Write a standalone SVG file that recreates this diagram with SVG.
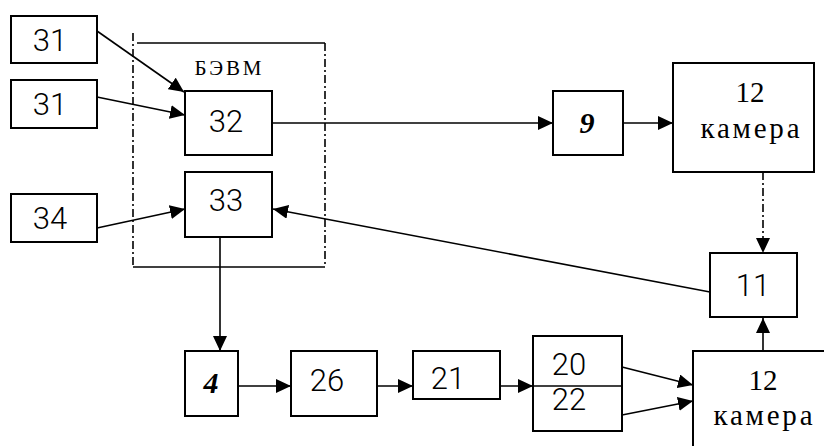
<svg xmlns="http://www.w3.org/2000/svg" width="824" height="446" viewBox="0 0 824 446">
<style>
.b{fill:#fff;stroke:#000;stroke-width:2}
.c{fill:none;stroke:#000;stroke-width:1.6}
.dd{fill:none;stroke:#000;stroke-width:1.6;stroke-dasharray:8 3 2 3}
.s{font-family:Roboto,"Liberation Sans",sans-serif;font-weight:300;font-size:31px;text-anchor:middle;fill:#000}
.t{font-family:"Liberation Serif","Times New Roman",serif;font-size:29px;text-anchor:middle;fill:#000}
.k{font-size:29px}
.e{font-size:21px}
.bi{font-family:"Liberation Serif","Times New Roman",serif;font-size:30px;font-weight:bold;font-style:italic;text-anchor:middle;fill:#000}
</style>
<defs>
<marker id="a" markerUnits="userSpaceOnUse" markerWidth="16" markerHeight="14" refX="15" refY="7" orient="auto">
<path d="M0,0 L15,7 L0,14 Z" fill="#000"/>
</marker>
</defs>
<g id="frame">
<line class="dd" x1="133" y1="33" x2="133" y2="267"/>
<line class="c" x1="137" y1="43" x2="325" y2="43"/>
<line class="dd" x1="325" y1="43" x2="325" y2="267"/>
<line class="c" x1="133" y1="267" x2="325" y2="267"/>
<text x="228" y="75" class="t e" textLength="67" lengthAdjust="spacing">БЭВМ</text>
</g>
<g id="connectors">
<line class="c" x1="97" y1="31" x2="184" y2="92" marker-end="url(#a)"/>
<line class="c" x1="97" y1="97" x2="185" y2="115" marker-end="url(#a)"/>
<line class="c" x1="97" y1="228" x2="185" y2="209" marker-end="url(#a)"/>
<line class="c" x1="272" y1="123" x2="553" y2="123" marker-end="url(#a)"/>
<line class="c" x1="623" y1="123" x2="673" y2="123" marker-end="url(#a)"/>
<line class="dd" x1="763" y1="172" x2="763" y2="253" marker-end="url(#a)"/>
<line class="c" x1="710" y1="292" x2="273" y2="209" marker-end="url(#a)"/>
<line class="c" x1="220" y1="237" x2="220" y2="351" marker-end="url(#a)"/>
<line class="c" x1="238" y1="386" x2="291" y2="386" marker-end="url(#a)"/>
<line class="c" x1="377" y1="386" x2="413" y2="386" marker-end="url(#a)"/>
<line class="c" x1="500" y1="386" x2="533" y2="386" marker-end="url(#a)"/>
<line class="c" x1="622" y1="367" x2="693" y2="385" marker-end="url(#a)"/>
<line class="c" x1="622" y1="415" x2="693" y2="401" marker-end="url(#a)"/>
<line class="c" x1="763" y1="351" x2="763" y2="318" marker-end="url(#a)"/>
</g>
<g id="n31a"><rect class="b" x="11" y="16" width="86" height="47"/><text class="s" x="50" y="51">31</text></g>
<g id="n31b"><rect class="b" x="11" y="80" width="86" height="48"/><text class="s" x="50" y="115">31</text></g>
<g id="n34"><rect class="b" x="11" y="194" width="86" height="48"/><text class="s" x="50" y="229">34</text></g>
<g id="n32"><rect class="b" x="185" y="91" width="87" height="64"/><text class="s" x="226" y="132">32</text></g>
<g id="n33"><rect class="b" x="185" y="172" width="87" height="65"/><text class="s" x="226" y="211">33</text></g>
<g id="n9"><rect class="b" x="553" y="91" width="70" height="64"/><text class="bi" x="587" y="133">9</text></g>
<g id="n12top"><rect class="b" x="673" y="63" width="141" height="109"/><text class="t" x="750" y="102">12</text><text class="t k" x="750" y="138" textLength="99" lengthAdjust="spacing">камера</text></g>
<g id="n11"><rect class="b" x="710" y="253" width="87" height="64"/><text class="s" x="753" y="296">11</text></g>
<g id="n4"><rect class="b" x="185" y="351" width="53" height="65"/><text class="bi" x="211" y="393">4</text></g>
<g id="n26"><rect class="b" x="291" y="351" width="86" height="65"/><text class="s" x="327" y="391">26</text></g>
<g id="n21"><rect class="b" x="413" y="351" width="87" height="48"/><text class="s" x="448" y="389">21</text></g>
<g id="n2022"><rect class="b" x="533" y="336" width="89" height="95"/><line class="c" x1="533" y1="386" x2="622" y2="386"/><text class="s" x="569" y="375">20</text><text class="s" x="569" y="410">22</text></g>
<g id="n12bot"><rect class="b" x="693" y="351" width="140" height="110"/><text class="t" x="763" y="390">12</text><text class="t k" x="763" y="425" textLength="99" lengthAdjust="spacing">камера</text></g>
</svg>
